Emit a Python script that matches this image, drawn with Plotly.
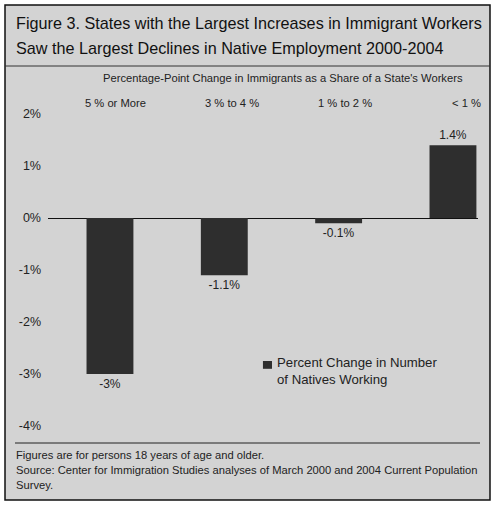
import plotly.graph_objects as go

categories = ["5 % or More", "3 % to 4 %", "1 % to 2 %", "< 1 %"]
values = [-3.0, -1.1, -0.1, 1.4]
value_labels = ["-3%", "-1.1%", "-0.1%", "1.4%"]
y_ticks = [2, 1, 0, -1, -2, -3, -4]
y_tick_labels = ["2%", "1%", "0%", "-1%", "-2%", "-3%", "-4%"]

title_lines = ["Figure 3. States with the Largest Increases in Immigrant Workers",
               "Saw the Largest Declines in Native Employment 2000-2004"]
subtitle = "Percentage-Point Change in Immigrants as a Share of a State's Workers"
legend_name = "Percent Change in Number<br>of Natives Working"
notes = ["Figures are for persons 18 years of age and older.",
         "Source: Center for Immigration Studies analyses of March 2000 and 2004 Current Population",
         "Survey."]

# layout-only offsets for the category header labels (in category units)
cat_label_shift = [0.05, 0.07, 0.06, 0.12]

FONT = "Liberation Sans, Arial, sans-serif"
BG = "#d3d3d3"
BAR = "#2e2e2e"

xpos = list(range(len(categories)))

fig = go.Figure()
fig.add_trace(go.Bar(
    x=xpos, y=values, width=0.41,
    marker=dict(color=BAR, line=dict(width=0)),
    text=value_labels, textposition="outside",
    textfont=dict(family=FONT, size=12, color="#222"),
    cliponaxis=False, showlegend=False, hoverinfo="skip",
))

W, H = 492, 508
L, R, T, B = 48, 14, 70, 68

fig.update_layout(
    width=W, height=H,
    margin=dict(l=L, r=R, t=T, b=B),
    paper_bgcolor=BG, plot_bgcolor=BG,
    font=dict(family=FONT, color="#222"),
    xaxis=dict(range=[-0.542, 3.219], showgrid=False, showticklabels=False,
               zeroline=False, showline=False, fixedrange=True),
    yaxis=dict(range=[-4.269, 2.846], tickvals=y_ticks, ticktext=y_tick_labels,
               showgrid=False, zeroline=True, zerolinecolor="#111", zerolinewidth=1,
               showline=False, tickfont=dict(family=FONT, size=12.5, color="#222"),
               ticks="", ticklabelstandoff=6, fixedrange=True),
)

pw, ph = W - L - R, H - T - B
def px_x(p):
    return (p - L) / pw
def px_y(p):
    return 1 - (p - T) / ph

anns = []
for i, t in enumerate(title_lines):
    anns.append(dict(text=t, xref="paper", yref="paper", x=px_x(14), y=px_y(23 + 25 * i),
                     xanchor="left", yanchor="middle", showarrow=False,
                     font=dict(family=FONT, size=16.2, color="#111")))
anns.append(dict(text=subtitle, x=1.51, y=2.7, xref="x", yref="y", showarrow=False,
                 font=dict(family=FONT, size=11.2, color="#222"), xanchor="center", yanchor="middle"))
for xi, c, s in zip(xpos, categories, cat_label_shift):
    anns.append(dict(text=c, x=xi + s, y=2.22, xref="x", yref="y", showarrow=False,
                     font=dict(family=FONT, size=11.2, color="#222"), xanchor="center", yanchor="middle"))
anns.append(dict(text=legend_name, x=1.443, y=-2.95, xref="x", yref="y", showarrow=False, align="left",
                 font=dict(family=FONT, size=13.2, color="#222"), xanchor="left", yanchor="middle"))
for i, n in enumerate(notes):
    anns.append(dict(text=n, xref="paper", yref="paper", x=px_x(14), y=px_y(455 + 15 * i),
                     xanchor="left", yanchor="middle", showarrow=False,
                     font=dict(family=FONT, size=11.2, color="#222")))
fig.update_layout(annotations=anns)

shapes = [
    dict(type="rect", xref="paper", yref="paper", x0=px_x(0), x1=px_x(W), y0=px_y(500), y1=px_y(H),
         fillcolor="white", line=dict(width=0), layer="below"),
    dict(type="rect", xref="paper", yref="paper", x0=px_x(0), x1=px_x(5), y0=px_y(0), y1=px_y(H),
         fillcolor="white", line=dict(width=0), layer="below"),
    dict(type="rect", xref="paper", yref="paper", x0=px_x(490), x1=px_x(W), y0=px_y(0), y1=px_y(H),
         fillcolor="white", line=dict(width=0), layer="below"),
    dict(type="rect", xref="paper", yref="paper", x0=px_x(0), x1=px_x(W), y0=px_y(0), y1=px_y(5),
         fillcolor="white", line=dict(width=0), layer="below"),
    dict(type="rect", xref="paper", yref="paper", x0=px_x(5), x1=px_x(490), y0=px_y(5), y1=px_y(500),
         line=dict(color="#111", width=1.5)),
    dict(type="line", xref="paper", yref="paper", x0=px_x(5), x1=px_x(490), y0=px_y(66), y1=px_y(66),
         line=dict(color="#333", width=1)),
    dict(type="line", xref="paper", yref="paper", x0=px_x(15), x1=px_x(480), y0=px_y(443), y1=px_y(443),
         line=dict(color="#222", width=1)),
    dict(type="rect", xref="x", yref="y", x0=1.338, x1=1.417, y0=-2.90, y1=-2.75,
         fillcolor=BAR, line=dict(width=0)),
]
fig.update_layout(shapes=shapes)

fig.write_html("out.html", config={"displayModeBar": False},
               post_script="document.body.style.margin='0';")
